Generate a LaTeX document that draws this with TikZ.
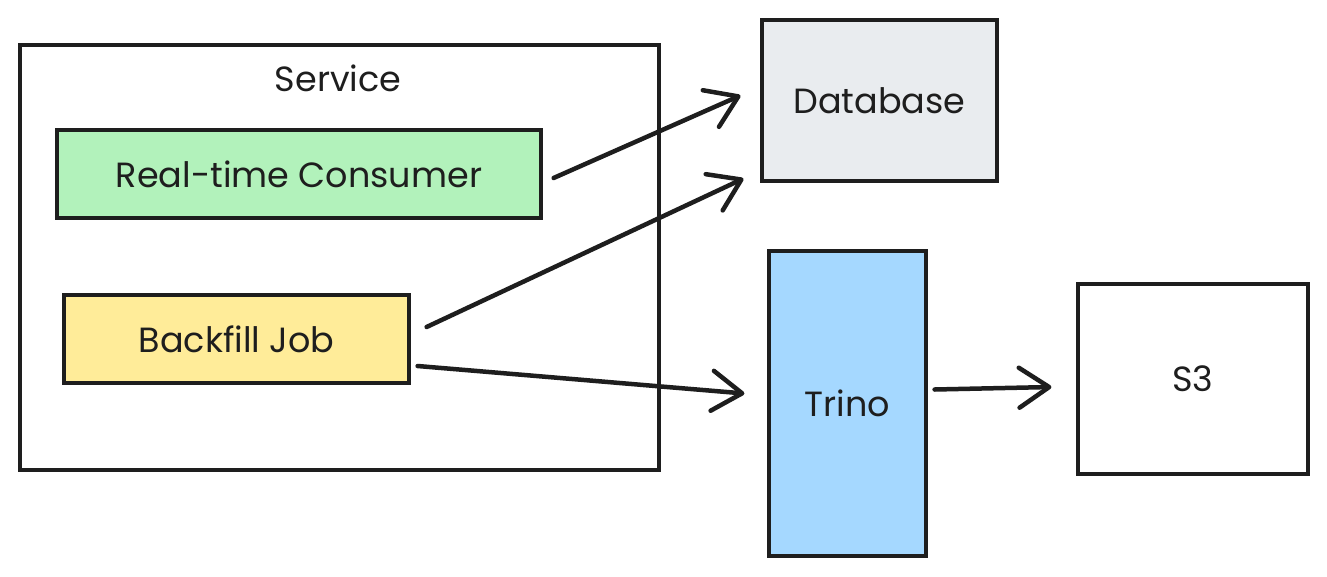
\documentclass[tikz,border=0pt]{standalone}
\usepackage{fontspec}
\setmainfont{Poppins}
\usetikzlibrary{arrows.meta}
\definecolor{ink}{HTML}{1E1E1E}
\definecolor{green}{HTML}{B2F2BB}
\definecolor{yellow}{HTML}{FFEC99}
\definecolor{gray}{HTML}{E9ECEF}
\definecolor{blue}{HTML}{A5D8FF}
\tikzset{
  lbl/.style={text=ink, font=\fontsize{35}{40}\selectfont},
  box/.style={draw=ink, line width=3.2pt, inner sep=0pt, lbl},
  arr/.style={draw=ink, line width=4.5pt, line cap=round,
    -{Straight Barb[length=30pt,width=40pt,line width=4.5pt,round]}},
}
\begin{document}
\begin{tikzpicture}[x=1pt,y=-1pt]
\useasboundingbox (0,0) rectangle (1327,576);
\fill[white] (0,0) rectangle (1327,576);
% service container
\node[box, minimum width=639pt, minimum height=425pt] (svc) at (339.5,257.5) {};
\node[lbl] (svclabel) at (338,78) {Service};
\node[box, fill=green, minimum width=484pt, minimum height=88pt] (rc) at (299,174) {Real-time Consumer};
\node[box, fill=yellow, minimum width=345pt, minimum height=88pt] (bj) at (236.5,339) {Backfill Job};
\node[box, fill=gray, minimum width=235pt, minimum height=161pt] (db) at (879.5,100.5) {Database};
\node[box, fill=blue, minimum width=157pt, minimum height=305pt] (trino) at (847.5,403.5) {Trino};
\node[box, fill=white, minimum width=230pt, minimum height=190pt] (s3) at (1193,379) {S3};
% connectors
\draw[arr] ([shift={(11,4)}]rc.east) -- ([shift={(-20,-5)}]db.west);
\draw[arr] ([shift={(16,-12)}]bj.east) -- ([shift={(-17,-4)}]db.south west);
\draw[arr] ([shift={(7,27)}]bj.east) -- ([shift={(-23,-10)}]trino.west);
\draw[arr] ([shift={(7,-14)}]trino.east) -- ([shift={(-25,8)}]s3.west);
\end{tikzpicture}
\end{document}
